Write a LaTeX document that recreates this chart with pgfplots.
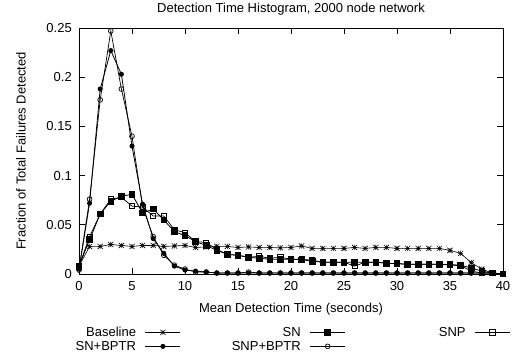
\documentclass[border=0pt]{standalone}
\usepackage{fontspec}
\setmainfont{Liberation Sans}
\usepackage{pgfplots}
\pgfplotsset{compat=1.18}
\pgfdeclareplotmark{gstar}{%
  \pgfpathmoveto{\pgfqpoint{-\pgfplotmarksize}{0pt}}\pgfpathlineto{\pgfqpoint{\pgfplotmarksize}{0pt}}%
  \pgfpathmoveto{\pgfqpoint{0pt}{-\pgfplotmarksize}}\pgfpathlineto{\pgfqpoint{0pt}{\pgfplotmarksize}}%
  \pgfpathmoveto{\pgfqpoint{-\pgfplotmarksize}{-\pgfplotmarksize}}\pgfpathlineto{\pgfqpoint{\pgfplotmarksize}{\pgfplotmarksize}}%
  \pgfpathmoveto{\pgfqpoint{-\pgfplotmarksize}{\pgfplotmarksize}}\pgfpathlineto{\pgfqpoint{\pgfplotmarksize}{-\pgfplotmarksize}}%
  \pgfusepathqstroke}
\newcommand{\lent}[1]{\makebox[120bp][r]{\rule[-3.5bp]{0pt}{13bp}#1\hspace{9bp}}}
\begin{document}
\begin{tikzpicture}[font=\fontsize{13bp}{15bp}\selectfont]
\path[use as bounding box] (-79bp,-81bp) rectangle (437bp,274bp);
\begin{axis}[
  at={(0,0)}, anchor=south west,
  scale only axis, width=424bp, height=246bp,
  xmin=0, xmax=40, ymin=0, ymax=0.25,
  xtick={0,5,...,40}, xticklabels={0,5,10,15,20,25,30,35,40},
  ytick={0,0.05,0.1,0.15,0.2,0.25}, yticklabels={0,0.05,0.1,0.15,0.2,0.25},
  xtick pos=both, ytick pos=both, tick align=inside,
  major tick length=6bp,
  axis line style={line width=0.8bp}, every tick/.style={black, line width=0.8bp},
  xticklabel style={yshift=-4bp},
  yticklabel style={xshift=-3.7bp},
  every axis title shift=0pt,
  title={Detection Time Histogram, 2000 node network},
  title style={at={(axis description cs:0.5,1.0626)}, anchor=base, inner sep=0pt},
  xlabel={Mean Detection Time (seconds)},
  xlabel style={at={(axis description cs:0.5,-0.157)}, anchor=base, inner sep=0pt},
  ylabel={Fraction of Total Failures Detected},
  ylabel style={at={(axis description cs:-0.1368,0.5)}, anchor=center, inner sep=0pt},
  legend columns=3,
  legend plot pos=right,
  legend style={at={(axis description cs:-0.12736,-0.215)}, anchor=north west, draw=none, fill=none,
    inner sep=0pt, outer sep=0pt, row sep=3bp, nodes={inner sep=0pt},
    /tikz/every even column/.append style={column sep=9bp}},
  legend image code/.code={\draw[mark repeat=2,mark phase=2,#1] plot coordinates {(0bp,0bp)(17.5bp,0bp)(35bp,0bp)};},
  every axis plot/.append style={black, line width=0.8bp, mark options={solid}},
]
\addplot[mark=gstar, mark size=2.6bp, line width=0.6bp] coordinates {
(0,0.008)(1,0.028)(2,0.028)(3,0.030)(4,0.029)(5,0.028)(6,0.029)(7,0.029)(8,0.028)(9,0.0285)
(10,0.029)(11,0.027)(12,0.0275)(13,0.028)(14,0.028)(15,0.027)(16,0.0275)(17,0.027)(18,0.027)(19,0.0265)
(20,0.027)(21,0.0285)(22,0.026)(23,0.026)(24,0.026)(25,0.026)(26,0.027)(27,0.026)(28,0.027)(29,0.027)
(30,0.026)(31,0.026)(32,0.026)(33,0.026)(34,0.026)(35,0.024)(36,0.021)(37,0.0115)(38,0.005)(39,0.001)(40,0.0)};
\addlegendentry{\lent{Baseline}}
\addplot[mark=square*, mark size=2.8bp] coordinates {
(0,0.008)(1,0.035)(2,0.061)(3,0.074)(4,0.079)(5,0.081)(6,0.062)(7,0.066)(8,0.055)(9,0.043)
(10,0.039)(11,0.033)(12,0.029)(13,0.024)(14,0.020)(15,0.019)(16,0.017)(17,0.016)(18,0.015)(19,0.015)
(20,0.015)(21,0.0145)(22,0.013)(23,0.012)(24,0.012)(25,0.012)(26,0.012)(27,0.012)(28,0.012)(29,0.011)
(30,0.0105)(31,0.010)(32,0.010)(33,0.010)(34,0.010)(35,0.0095)(36,0.009)(37,0.006)(38,0.003)(39,0.001)(40,0.0)};
\addlegendentry{\lent{SN}}
\addplot[mark=square, mark size=2.6bp, line width=0.7bp] coordinates {
(0,0.008)(1,0.038)(2,0.061)(3,0.076)(4,0.078)(5,0.069)(6,0.068)(7,0.059)(8,0.059)(9,0.045)
(10,0.042)(11,0.033)(12,0.032)(13,0.025)(14,0.020)(15,0.019)(16,0.017)(17,0.018)(18,0.016)(19,0.017)
(20,0.015)(21,0.015)(22,0.014)(23,0.012)(24,0.012)(25,0.012)(26,0.008)(27,0.012)(28,0.012)(29,0.011)
(30,0.0105)(31,0.010)(32,0.010)(33,0.010)(34,0.010)(35,0.009)(36,0.0085)(37,0.003)(38,0.001)(39,0.001)(40,0.0)};
\addlegendentry{\lent{SNP}}
\addplot[mark=*, mark size=2.1bp] coordinates {
(0,0.005)(1,0.072)(2,0.188)(3,0.227)(4,0.203)(5,0.130)(6,0.071)(7,0.036)(8,0.021)(9,0.008)
(10,0.004)(11,0.003)(12,0.002)(13,0.001)(14,0.001)(15,0.001)(16,0.001)(17,0.001)(18,0.001)(19,0.001)
(20,0.001)(21,0.001)(22,0.001)(23,0.001)(24,0.001)(25,0.001)(26,0.001)(27,0.001)(28,0.001)(29,0.001)
(30,0.001)(31,0.001)(32,0.001)(33,0.001)(34,0.001)(35,0.001)(36,0.001)(37,0.001)(38,0.001)(39,0.001)(40,0.0)};
\addlegendentry{\lent{SN+BPTR}}
\addplot[mark=o, mark size=2.4bp, line width=0.7bp] coordinates {
(0,0.004)(1,0.076)(2,0.177)(3,0.247)(4,0.188)(5,0.140)(6,0.068)(7,0.038)(8,0.019)(9,0.009)
(10,0.005)(11,0.002)(12,0.002)(13,0.001)(14,0.001)(15,0.001)(16,0.002)(17,0.001)(18,0.001)(19,0.001)
(20,0.001)(21,0.001)(22,0.001)(23,0.001)(24,0.001)(25,0.001)(26,0.001)(27,0.001)(28,0.001)(29,0.001)
(30,0.001)(31,0.001)(32,0.001)(33,0.001)(34,0.001)(35,0.001)(36,0.001)(37,0.001)(38,0.001)(39,0.001)(40,0.0)};
\addlegendentry{\lent{SNP+BPTR}}
\end{axis}
\end{tikzpicture}
\end{document}
